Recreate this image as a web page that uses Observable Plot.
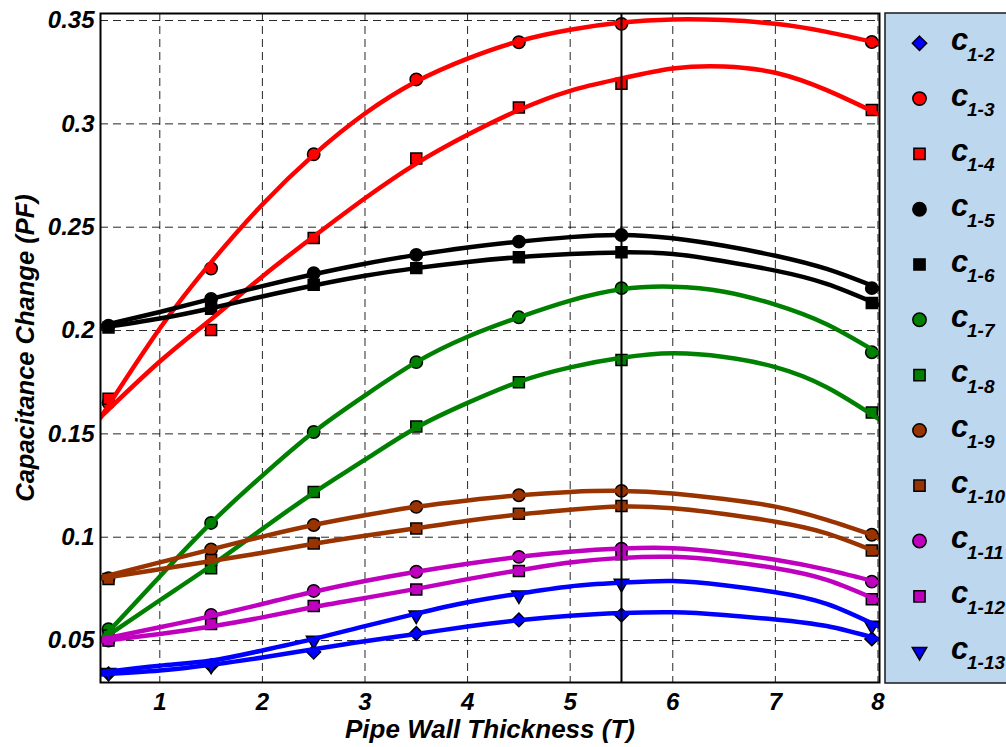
<!DOCTYPE html>
<html><head><meta charset="utf-8">
<script src="https://cdn.jsdelivr.net/npm/d3@7"></script>
<script src="https://cdn.jsdelivr.net/npm/@observablehq/plot@0.6"></script>
<style>
html,body{margin:0;padding:0;background:#fff;}
#chart{position:relative;width:1006px;height:747px;overflow:hidden;background:#fff;}
#chart svg{position:absolute;left:0;top:0;}
</style></head>
<body><div id="chart"></div>
<script>
// ---- data ----
const xTicks = [1, 2, 3, 4, 5, 6, 7, 8];
const xTickLabels = ["1", "2", "3", "4", "5", "6", "7", "8"];
const yTicks = [0.05, 0.1, 0.15, 0.2, 0.25, 0.3, 0.35];
const yTickLabels = ["0.05", "0.1", "0.15", "0.2", "0.25", "0.3", "0.35"];
const xLabel = "Pipe Wall Thickness (T)";
const yLabel = "Capacitance Change (PF)";
const refThickness = [5.5];

const seriesNames = ["1-2", "1-3", "1-4", "1-5", "1-6", "1-7", "1-8", "1-9", "1-10", "1-11", "1-12", "1-13"];

// measured points
const xMeas = [0.5, 1.5, 2.5, 3.5, 4.5, 5.5, 7.94];
const c12  = [0.0339, 0.0378, 0.0444, 0.0534, 0.0600, 0.0623, 0.0508];
const c13  = [0.1650, 0.2300, 0.2853, 0.3215, 0.3395, 0.3484, 0.3396];
const c14  = [0.1670, 0.2003, 0.2448, 0.2832, 0.3079, 0.3194, 0.3067];
const c15  = [0.2024, 0.2153, 0.2277, 0.2366, 0.2430, 0.2462, 0.2205];
const c16  = [0.2015, 0.2105, 0.2221, 0.2302, 0.2355, 0.2379, 0.2133];
const c17  = [0.0555, 0.1069, 0.1509, 0.1847, 0.2064, 0.2205, 0.1895];
const c18  = [0.0525, 0.0850, 0.1219, 0.1536, 0.1750, 0.1858, 0.1603];
const c19  = [0.0802, 0.0941, 0.1059, 0.1147, 0.1203, 0.1224, 0.1012];
const c110 = [0.0798, 0.0890, 0.0970, 0.1042, 0.1114, 0.1151, 0.0936];
const c111 = [0.0500, 0.0624, 0.0740, 0.0833, 0.0905, 0.0945, 0.0785];
const c112 = [0.0500, 0.0580, 0.0667, 0.0747, 0.0837, 0.0918, 0.0700];
const c113 = [0.0345, 0.0380, 0.0500, 0.0623, 0.0720, 0.0776, 0.0573];

// fitted curves
const xFit = [0.42, 1, 1.5, 2, 2.5, 3, 3.5, 4, 4.5, 5, 5.5, 6, 6.5, 7, 7.5, 8.02];
const f12  = [0.0336, 0.0355, 0.0383, 0.0418, 0.0458, 0.0497, 0.0532, 0.0568, 0.0598, 0.0620, 0.0633, 0.0637, 0.0624, 0.0602, 0.0570, 0.0505];
const f13  = [0.1577, 0.2010, 0.2330, 0.2610, 0.2850, 0.3050, 0.3205, 0.3316, 0.3400, 0.3455, 0.3490, 0.3505, 0.3502, 0.3484, 0.3445, 0.3388];
const f14  = [0.1580, 0.1850, 0.2055, 0.2262, 0.2455, 0.2640, 0.2808, 0.2947, 0.3067, 0.3160, 0.3220, 0.3268, 0.3278, 0.3247, 0.3163, 0.3043];
const f15  = [0.2022, 0.2090, 0.2153, 0.2215, 0.2272, 0.2323, 0.2366, 0.2402, 0.2430, 0.2452, 0.2462, 0.2446, 0.2410, 0.2362, 0.2298, 0.2202];
const f16  = [0.2013, 0.2058, 0.2108, 0.2165, 0.2218, 0.2265, 0.2302, 0.2332, 0.2355, 0.2370, 0.2378, 0.2370, 0.2335, 0.2290, 0.2226, 0.2122];
const f17  = [0.0500, 0.0810, 0.1069, 0.1298, 0.1509, 0.1686, 0.1847, 0.1970, 0.2064, 0.2145, 0.2200, 0.2212, 0.2188, 0.2125, 0.2030, 0.1885];
const f18  = [0.0500, 0.0695, 0.0862, 0.1040, 0.1215, 0.1375, 0.1530, 0.1650, 0.1752, 0.1822, 0.1868, 0.1890, 0.1872, 0.1823, 0.1726, 0.1568];
const f19  = [0.0805, 0.0878, 0.0941, 0.1003, 0.1059, 0.1106, 0.1147, 0.1178, 0.1203, 0.1219, 0.1224, 0.1212, 0.1185, 0.1148, 0.1084, 0.0998];
const f110 = [0.0800, 0.0845, 0.0885, 0.0925, 0.0968, 0.1007, 0.1043, 0.1080, 0.1110, 0.1133, 0.1148, 0.1140, 0.1112, 0.1075, 0.1019, 0.0922];
const f111 = [0.0505, 0.0564, 0.0618, 0.0677, 0.0736, 0.0788, 0.0833, 0.0872, 0.0905, 0.0930, 0.0945, 0.0947, 0.0925, 0.0891, 0.0843, 0.0779];
const f112 = [0.0497, 0.0532, 0.0568, 0.0612, 0.0662, 0.0706, 0.0750, 0.0797, 0.0840, 0.0878, 0.0900, 0.0905, 0.0885, 0.0850, 0.0794, 0.0690];
const f113 = [0.0345, 0.0378, 0.0403, 0.0452, 0.0508, 0.0570, 0.0630, 0.0685, 0.0727, 0.0762, 0.0780, 0.0788, 0.0768, 0.0734, 0.0678, 0.0565];

// ---- styles ----
const BLUE = "#0000ff", RED = "#ff0000", BLACK = "#000000", GREEN = "#008000", BROWN = "#993300", MAGENTA = "#bf00bf";
const seriesColors = [BLUE, RED, RED, BLACK, BLACK, GREEN, GREEN, BROWN, BROWN, MAGENTA, MAGENTA, BLUE];
const seriesSymbols = ["diamond2", "circle", "square", "circle", "square", "circle", "square", "circle", "square", "circle", "square", "triangle"];
const measured = [c12, c13, c14, c15, c16, c17, c18, c19, c110, c111, c112, c113];
const fitted = [f12, f13, f14, f15, f16, f17, f18, f19, f110, f111, f112, f113];

const FONT = '"Liberation Sans", Arial, Helvetica, sans-serif';

const dotMarks = seriesNames.map((name, i) => {
  const rows = xMeas.map((x, j) => ({x, y: measured[i][j]}));
  const sym = seriesSymbols[i];
  return Plot.dot(rows, {
    x: "x", y: "y",
    symbol: sym,
    r: sym === "triangle" ? 5.4 : 6.2,
    rotate: sym === "triangle" ? 180 : 0,
    fill: seriesColors[i],
    stroke: "black",
    strokeWidth: 1.5,
    clip: true
  });
});
const lineMarks = seriesNames.map((name, i) => {
  const rows = xFit.map((x, j) => ({x, y: fitted[i][j]}));
  return Plot.line(rows, {
    x: "x", y: "y",
    stroke: seriesColors[i],
    strokeWidth: 4.5,
    curve: "natural",
    clip: true
  });
});

const plot = Plot.plot({
  width: 1006,
  height: 747,
  marginLeft: 100,
  marginRight: 127,
  marginTop: 13,
  marginBottom: 65,
  x: {domain: [0.422, 8.015]},
  y: {domain: [0.0297, 0.3534]},
  style: {fontFamily: FONT, fontSize: "24px", fontWeight: "bold", fontStyle: "italic", color: "black", background: "transparent"},
  marks: [
    Plot.gridX(xTicks, {stroke: "#000", strokeOpacity: 0.85, strokeWidth: 1, strokeDasharray: "8,5"}),
    Plot.gridY(yTicks, {stroke: "#000", strokeOpacity: 0.85, strokeWidth: 1, strokeDasharray: "8,5"}),
    Plot.axisX(xTicks, {tickSize: 0, tickPadding: 10, tickFormat: d => xTickLabels[xTicks.indexOf(d)], label: null}),
    Plot.axisY(yTicks, {tickSize: 0, tickPadding: 6, tickFormat: d => yTickLabels[yTicks.indexOf(d)], label: null}),
    ...dotMarks,
    ...lineMarks,
    Plot.ruleX(refThickness, {stroke: "black", strokeWidth: 2}),
    Plot.frame({stroke: "black", strokeWidth: 2}),
    Plot.text([xLabel], {frameAnchor: "bottom", dy: 47, lineAnchor: "middle", textAnchor: "middle", text: d => d, fontSize: 26, fontWeight: "bold", fontStyle: "italic"}),
    Plot.text([yLabel], {frameAnchor: "left", dx: -75, rotate: -90, lineAnchor: "middle", textAnchor: "middle", text: d => d, fontSize: 25.5, fontWeight: "bold", fontStyle: "italic"})
  ]
});

const chart = document.getElementById("chart");
chart.appendChild(plot);

// ---- legend (drawn with d3 over the right margin) ----
const lg = d3.create("svg").attr("width", 1006).attr("height", 747)
  .style("position", "absolute").style("left", "0").style("top", "0")
  .style("font-family", FONT).style("font-weight", "bold").style("font-style", "italic");
lg.append("rect").attr("x", 885).attr("y", 13).attr("width", 140).attr("height", 670)
  .attr("fill", "#bdd7ee").attr("stroke", "#1a1a1a").attr("stroke-width", 1.5);
const d3sym = {circle: [d3.symbolCircle, 140], square: [d3.symbolSquare, 125], diamond2: [d3.symbolDiamond2, 130], triangle: [d3.symbolTriangle, 90]};
seriesNames.forEach((name, i) => {
  const cy = 43.3 + i * 55.3;
  const [type, size] = d3sym[seriesSymbols[i]];
  lg.append("path")
    .attr("d", d3.symbol(type, size)())
    .attr("transform", `translate(919.5,${cy})` + (seriesSymbols[i] === "triangle" ? " rotate(180)" : ""))
    .attr("fill", seriesColors[i]).attr("stroke", "black").attr("stroke-width", 1.5);
  lg.append("text").attr("x", 951).attr("y", cy + 7).attr("font-size", 31).attr("fill", "black").text("c");
  lg.append("text").attr("x", 967).attr("y", cy + 17.5).attr("font-size", 19).attr("fill", "black").text(name);
});
chart.appendChild(lg.node());
</script>
</body></html>
